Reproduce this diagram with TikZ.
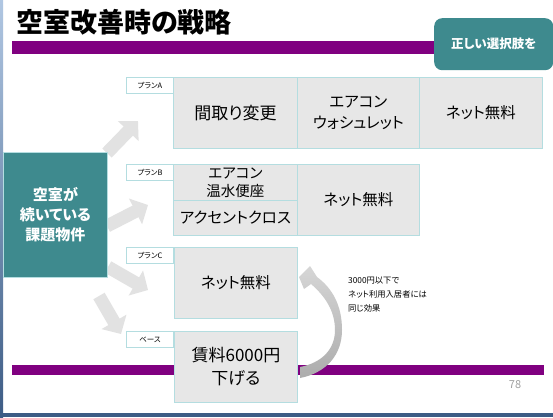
\documentclass[tikz,border=0pt]{standalone}
\usepackage{fontspec}
\setmainfont{Noto Sans CJK JP}[RawFeature=+palt]
\usetikzlibrary{arrows.meta}
\definecolor{tealbox}{HTML}{3E8A8E}
\definecolor{purplebar}{HTML}{800080}
\definecolor{cellfill}{HTML}{E7E7E7}
\definecolor{cellline}{HTML}{B4DDE0}
\definecolor{arrowgray}{HTML}{E2E2E2}
\definecolor{framelight}{HTML}{8FAFD6}
\definecolor{framedark}{HTML}{3D5C85}
\definecolor{pagenum}{HTML}{A0A0A0}
\definecolor{curvetop}{HTML}{D6D6D6}
\definecolor{curvebot}{HTML}{ACACAC}
\tikzset{
  cell/.style={draw=cellline, fill=cellfill, line width=0.9pt, anchor=north west,
    inner sep=0pt, align=center, font=\fontsize{15.5}{21}\selectfont},
  plabel/.style={draw=cellline, fill=white, line width=0.9pt, anchor=north west,
    minimum width=47pt, minimum height=16pt, inner sep=0pt, font=\fontsize{7.5}{8}\selectfont},
  blockarrow/.style={draw=arrowgray, line width=13pt, -{Triangle[length=14pt,width=28pt]}},
  bar/.style={fill=purplebar}
}
\begin{document}
\begin{tikzpicture}[x=1pt,y=-1pt]
\useasboundingbox (0,0) rectangle (553,417);
\fill[white] (0,0) rectangle (553,417);
% frame strips
\shade[top color=framelight!70, bottom color=framedark] (0,0) rectangle (3,417);
\fill[framedark] (0,413) rectangle (553,417);
% purple bars
\fill[bar] (12,41) rectangle (440,54);
\fill[bar] (12,365) rectangle (544,375);
% title
\node[anchor=west, inner sep=0pt, font=\fontsize{27}{27}\selectfont\bfseries] (title) at (16,22) {空室改善時の戦略};
% teal box top right
\node[fill=tealbox, rounded corners=8pt, minimum width=119pt, minimum height=52pt, anchor=north west,
  text=white, font=\fontsize{12.5}{14}\selectfont\bfseries, inner sep=0pt] (choice) at (434,18) {正しい選択肢を};
% arrows
\coordinate (a1s) at (107,153); \coordinate (a1e) at (138,121);
\coordinate (a2s) at (107,226); \coordinate (a2e) at (148,205);
\coordinate (a3s) at (108,267); \coordinate (a3e) at (148,290);
\coordinate (a4s) at (99,296);  \coordinate (a4e) at (121,334);
\draw[blockarrow] (a1s) -- (a1e);
\draw[blockarrow] (a2s) -- (a2e);
\draw[blockarrow] (a3s) -- (a3e);
\draw[blockarrow] (a4s) -- (a4e);
% left box
\node[draw=cellline, line width=0.9pt, fill=tealbox, anchor=north west, minimum width=104pt, minimum height=125pt,
  inner sep=0pt, align=center, text=white, font=\fontsize{15}{20}\selectfont\bfseries] (issue) at (3,152)
  {空室が\\続いている\\課題物件};
% plan labels
\node[plabel] (la) at (126,77) {プランA};
\node[plabel] (lb) at (126,164) {プランB};
\node[plabel] (lc) at (126,247) {プランC};
\node[plabel] (ld) at (126,331) {ベース};
% cells row A
\node[cell, minimum width=124pt, minimum height=71pt, font=\fontsize{17}{21}\selectfont] (a1) at (173,77) {間取り変更};
\node[cell, minimum width=122pt, minimum height=71pt] (a2) at (297,77) {エアコン\\ウォシュレット};
\node[cell, minimum width=123pt, minimum height=71pt] (a3) at (419,77) {ネット無料};
% row B
\node[cell, minimum width=124pt, minimum height=36pt, font=\fontsize{14.5}{18}\selectfont] (b1) at (173,164) {エアコン\\温水便座};
\node[cell, minimum width=124pt, minimum height=35pt] (b2) at (173,200) {アクセントクロス};
\node[cell, minimum width=122pt, minimum height=71pt] (b3) at (297,164) {ネット無料};
% row C
\node[cell, minimum width=123pt, minimum height=71pt] (c1) at (174,247) {ネット無料};
% base
\node[cell, minimum width=123pt, minimum height=71pt, font=\fontsize{17}{23}\selectfont] (d1) at (174,331) {賃料6000円\\下げる};
% curved arrow
\shade[top color=curvetop, bottom color=curvebot]
  (300,378) .. controls (326,373) and (342,355) .. (342,330)
  .. controls (342,305) and (332,288) .. (317,277)
  -- (310,266) -- (299,277) -- (304,289) -- (311,284)
  .. controls (325,296) and (335,311) .. (335,330)
  .. controls (335,350) and (321,363) .. (300,367) -- cycle;
% note
\node[anchor=north west, inner sep=0pt, align=left, font=\fontsize{8.3}{14}\selectfont] (note) at (348,277)
  {3000円以下で\\ネット利用入居者には\\同じ効果};
% page number
\node[text=pagenum, font=\fontsize{11}{12}\selectfont, inner sep=0pt] (pg) at (515,385) {78};
\end{tikzpicture}
\end{document}
